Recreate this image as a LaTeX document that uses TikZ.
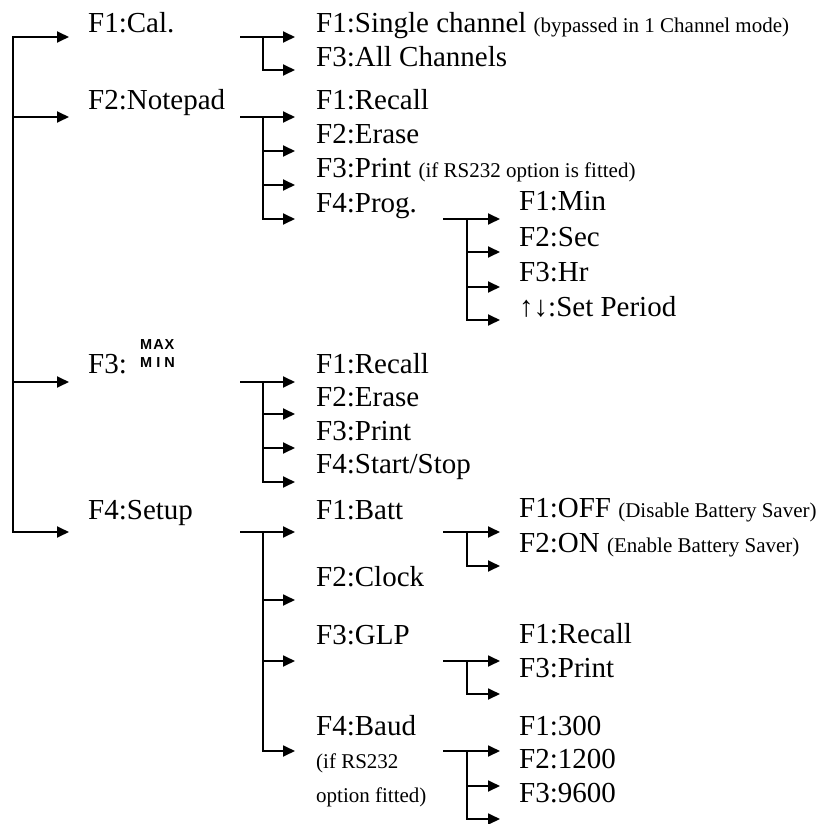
\documentclass[tikz,border=0pt]{standalone}
\usepackage{fontspec}
\setmainfont{Liberation Serif}
\newfontfamily\mmfont{Liberation Sans Bold}
\usetikzlibrary{arrows.meta}
\newcommand{\smltxt}[1]{{\fontsize{21}{24}\selectfont #1}}
\begin{document}
\begin{tikzpicture}[x=1pt,y=-1pt,
  big/.style={anchor=base west,inner sep=0pt,font=\fontsize{29}{33}\selectfont},
  sm/.style={anchor=base west,inner sep=0pt,font=\fontsize{21}{24}\selectfont},
  mm/.style={anchor=base west,inner sep=0pt,font=\mmfont\fontsize{14.5}{14.5}\selectfont},
  arr/.style={line width=1.8pt,-{Triangle[length=12pt,width=11pt]}},
  vl/.style={line width=1.8pt,line cap=rect}]
\useasboundingbox (0,0) rectangle (825,824);

% ---------- texts ----------
\node[big] (l1a) at (88,33)  {F1:Cal.};
\node[big] (l1b) at (88,110) {F2:Notepad};
\node[big] (l1c) at (88,373) {F3:};
\node[mm]  (mx)  at (140,349) {M\hspace{1pt}A\hspace{1pt}X};
\node[mm]  (mn)  at (140,367) {M\hspace{4pt}I\hspace{4pt}N};
\node[big] (l1d) at (88,519) {F4:Setup};

\node[big] (cal1) at (316,33) {F1:Single channel \smltxt{(bypassed in 1 Channel mode)}};
\node[big] (cal2) at (316,67) {F3:All Channels};

\node[big] (np1) at (316,110) {F1:Recall};
\node[big] (np2) at (316,144) {F2:Erase};
\node[big] (np3) at (316,178) {F3:Print \smltxt{(if RS232 option is fitted)}};
\node[big] (np4) at (316,212) {F4:Prog.};

\node[big] (pr1) at (519,211) {F1:Min};
\node[big] (pr2) at (519,246) {F2:Sec};
\node[big] (pr3) at (519,281) {F3:Hr};
\node[big] (pr4) at (519,316) {↑↓:Set Period};

\node[big] (mm1) at (316,373) {F1:Recall};
\node[big] (mm2) at (316,406) {F2:Erase};
\node[big] (mm3) at (316,440) {F3:Print};
\node[big] (mm4) at (316,473) {F4:Start/Stop};

\node[big] (su1) at (316,519) {F1:Batt};
\node[big] (su2) at (316,586) {F2:Clock};
\node[big] (su3) at (316,644) {F3:GLP};
\node[big] (su4) at (316,735) {F4:Baud};
\node[sm]  (su4a) at (316,768) {(if RS232};
\node[sm]  (su4b) at (316,802) {option fitted)};

\node[big] (ba1) at (519,517) {F1:OFF \smltxt{(Disable Battery Saver)}};
\node[big] (ba2) at (519,552) {F2:ON \smltxt{(Enable Battery Saver)}};

\node[big] (gl1) at (519,643) {F1:Recall};
\node[big] (gl2) at (519,677) {F3:Print};

\node[big] (bd1) at (519,735) {F1:300};
\node[big] (bd2) at (519,768) {F2:1200};
\node[big] (bd3) at (519,802) {F3:9600};

% ---------- reference columns ----------
\coordinate (T)  at (13,0);
\coordinate (S2) at (240,0);
\coordinate (V2) at (263,0);
\coordinate (S3) at (443,0);
\coordinate (V3) at (467,0);

% ---------- arrow tips ----------
\coordinate (a1) at (69,37);
\coordinate (a2) at (69,117);
\coordinate (a3) at (69,382);
\coordinate (a4) at (69,532);

\coordinate (c1) at (295,37);
\coordinate (c2) at (295,70);

\coordinate (n1) at (295,117);
\coordinate (n2) at (295,151);
\coordinate (n3) at (295,185);
\coordinate (n4) at (295,219);

\coordinate (m1) at (295,382);
\coordinate (m2) at (295,414);
\coordinate (m3) at (295,448);
\coordinate (m4) at (295,482);

\coordinate (s1) at (295,532);
\coordinate (s2) at (295,600);
\coordinate (s3) at (295,661);
\coordinate (s4) at (295,751);

\coordinate (p1) at (500,219);
\coordinate (p2) at (500,252);
\coordinate (p3) at (500,287);
\coordinate (p4) at (500,320);

\coordinate (b1) at (500,532);
\coordinate (b2) at (500,566);

\coordinate (g1) at (500,661);
\coordinate (g2) at (500,694);

\coordinate (d1) at (500,751);
\coordinate (d2) at (500,786);
\coordinate (d3) at (500,819);

% ---------- trunk ----------
\draw[vl] (a1 -| T) -- (a4 -| T);
\foreach \t in {a1,a2,a3,a4} \draw[arr] (\t -| T) -- (\t);

% ---------- level 2 ----------
\draw[arr] (c1 -| S2) -- (c1);
\draw[vl] (c1 -| V2) -- (c2 -| V2);
\draw[arr] (c2 -| V2) -- (c2);

\draw[arr] (n1 -| S2) -- (n1);
\draw[vl] (n1 -| V2) -- (n4 -| V2);
\foreach \t in {n2,n3,n4} \draw[arr] (\t -| V2) -- (\t);

\draw[arr] (m1 -| S2) -- (m1);
\draw[vl] (m1 -| V2) -- (m4 -| V2);
\foreach \t in {m2,m3,m4} \draw[arr] (\t -| V2) -- (\t);

\draw[arr] (s1 -| S2) -- (s1);
\draw[vl] (s1 -| V2) -- (s4 -| V2);
\foreach \t in {s2,s3,s4} \draw[arr] (\t -| V2) -- (\t);

% ---------- level 3 ----------
\draw[arr] (p1 -| S3) -- (p1);
\draw[vl] (p1 -| V3) -- (p4 -| V3);
\foreach \t in {p2,p3,p4} \draw[arr] (\t -| V3) -- (\t);

\draw[arr] (b1 -| S3) -- (b1);
\draw[vl] (b1 -| V3) -- (b2 -| V3);
\draw[arr] (b2 -| V3) -- (b2);

\draw[arr] (g1 -| S3) -- (g1);
\draw[vl] (g1 -| V3) -- (g2 -| V3);
\draw[arr] (g2 -| V3) -- (g2);

\draw[arr] (d1 -| S3) -- (d1);
\draw[vl] (d1 -| V3) -- (d3 -| V3);
\foreach \t in {d2,d3} \draw[arr] (\t -| V3) -- (\t);
\end{tikzpicture}
\end{document}
